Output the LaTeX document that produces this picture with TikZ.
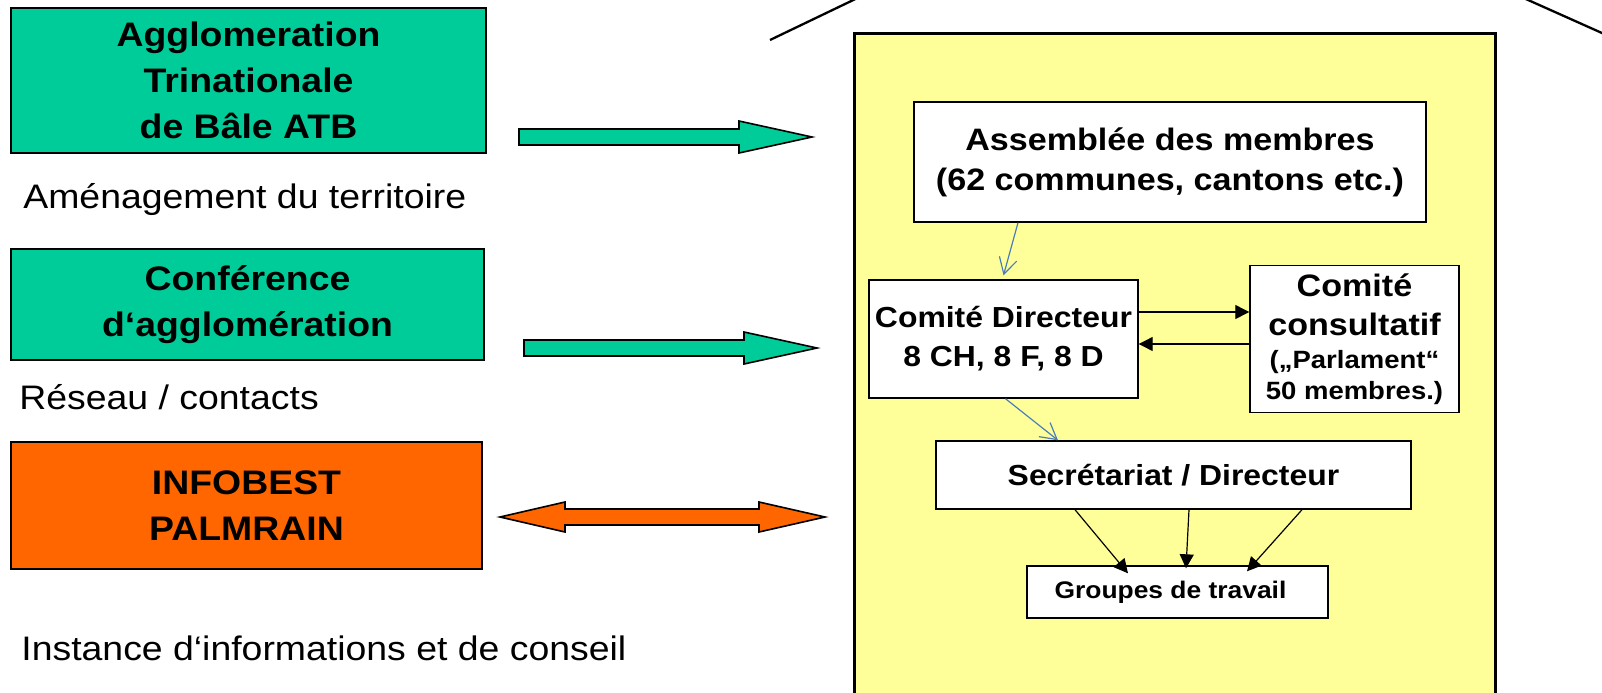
\documentclass[tikz,border=0pt]{standalone}
\usepackage{fontspec}
\setmainfont{Liberation Sans}[FakeStretch=1.1]
\usepackage{tikz}
\usetikzlibrary{arrows.meta}
\definecolor{atbgreen}{HTML}{00CC99}
\definecolor{infoorange}{HTML}{FF6600}
\definecolor{houseyellow}{HTML}{FFFF99}
\definecolor{linkblue}{HTML}{4A7EBB}
\newcommand{\smallline}{\fontsize{12.5}{15}\selectfont}
\tikzset{
    sidebox/.style={draw, line width=0.8pt, font=\fontsize{17}{23}\selectfont\bfseries, align=center, inner sep=0pt},
    orgbox/.style={draw, fill=white, line width=0.7pt, font=\fontsize{14.5}{19.5}\selectfont\bfseries, align=center, inner sep=0pt},
    sidelabel/.style={anchor=base west, inner sep=0pt, font=\fontsize{17}{23}\selectfont},
    bluelink/.style={draw=linkblue, line width=0.6pt, -{Straight Barb[length=8pt,width=9pt]}},
    blacklink/.style={line width=0.6pt, -{Triangle[length=7pt,width=7pt]}},
    pics/fatarrow/.style args={#1/#2/#3/#4}{
    code = {
        \draw[fill=#4, line width=0.8pt] (#1,#3-8) -- (#2-73,#3-8) -- (#2-73,#3-16) -- (#2,#3)
            -- (#2-73,#3+16) -- (#2-73,#3+8) -- (#1,#3+8) -- cycle;
    }},
    pics/dblarrow/.style args={#1/#2/#3/#4}{
    code = {
        \draw[fill=#4, line width=0.8pt] (#1,#3) -- (#1+65,#3-15) -- (#1+65,#3-8) -- (#2-66,#3-8)
            -- (#2-66,#3-15) -- (#2,#3) -- (#2-66,#3+15) -- (#2-66,#3+8) -- (#1+65,#3+8) -- (#1+65,#3+15) -- cycle;
    }}
}

\begin{document}
\begin{tikzpicture}[x=0.5pt,y=-0.5pt]
    \useasboundingbox (0,0) rectangle (1602,692);
    \clip (0,0) rectangle (1602,692);

    % left side
    \node[sidebox, fill=atbgreen, minimum width=237.5pt, minimum height=72.5pt] (atb) at (248.5,80.5) {Agglomeration\\Trinationale\\de Bâle ATB};
    \node[sidelabel] (lblatb) at (23,208) {Aménagement du territoire};
    \node[sidebox, fill=atbgreen, minimum width=236.5pt, minimum height=55.5pt] (conf) at (247.5,304.5) {Conférence\\d‘agglomération};
    \node[sidelabel] (lblconf) at (19,409) {Réseau / contacts};
    \node[sidebox, fill=infoorange, minimum width=235.5pt, minimum height=63.5pt] (info) at (246.5,505.5) {INFOBEST\\PALMRAIN};
    \node[sidelabel] (lblinfo) at (21,660) {Instance d‘informations et de conseil};

    % big arrows
    \pic{fatarrow=519/812/137/atbgreen};
    \pic{fatarrow=524/817/348/atbgreen};
    \pic{dblarrow=500/825/517/infoorange};

    % house
    \draw[line width=1.15pt] (770,40) -- (895,-20);
    \draw[line width=1.15pt] (1490,-17) -- (1640,50);
    \node[draw, fill=houseyellow, line width=1.35pt, anchor=north west, minimum width=320.5pt, minimum height=345pt] (house) at (853,32) {};

    % organs
    \node[orgbox, font=\fontsize{15.5}{20}\selectfont\bfseries, minimum width=256pt, minimum height=60pt] (assemblee) at (1170,162) {Assemblée des membres\\(62 communes, cantons etc.)};
    \node[orgbox, minimum width=134.5pt, minimum height=59pt] (cd) at (1003.5,339) {Comité Directeur\\8 CH, 8 F, 8 D};
    \node[orgbox, font=\fontsize{15.5}{19.5}\selectfont\bfseries, minimum width=104.5pt, minimum height=73.5pt] (consult) at (1354.5,339) {Comité\\consultatif\\[-3pt]{\smallline(„Parlament“}\\[-4pt]{\smallline 50 membres.)}};
    \node[orgbox, minimum width=237.5pt, minimum height=34pt] (secr) at (1173.5,475) {Secrétariat / Directeur};
    \node[orgbox, font=\fontsize{12}{15}\selectfont\bfseries, minimum width=150.5pt, minimum height=26pt] (groupes) at (1177.5,592) {Groupes de travail\hspace*{7pt}};

    \draw[bluelink] ([xshift=-76pt]assemblee.south) -- ([yshift=2pt]cd.north);
    \draw[bluelink] ([xshift=1pt]cd.south) -- ([xshift=-57.75pt]secr.north);
    \draw[blacklink] ([yshift=13.5pt]cd.east) -- ([yshift=13.5pt]consult.west);
    \draw[blacklink] ([yshift=-2.5pt]consult.west) -- ([yshift=-2.5pt]cd.east);
    \draw[blacklink] ([xshift=-49.25pt]secr.south) -- ([xshift=-24.75pt,yshift=-4pt]groupes.north);
    \draw[blacklink] ([xshift=7.75pt]secr.south) -- ([xshift=4.25pt,yshift=-1.5pt]groupes.north);
    \draw[blacklink] ([xshift=64.25pt]secr.south) -- ([xshift=34.75pt,yshift=-3pt]groupes.north);
\end{tikzpicture}
\end{document}
